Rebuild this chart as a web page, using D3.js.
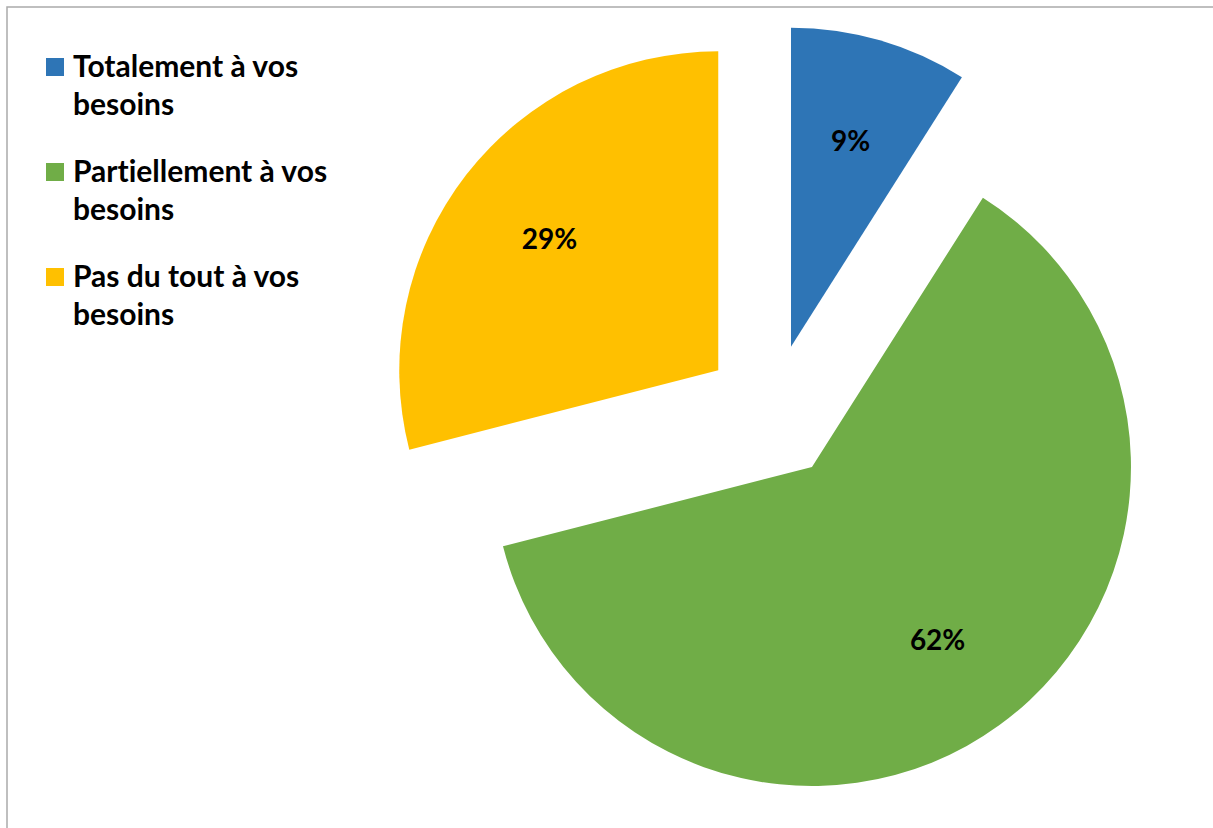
<!DOCTYPE html>
<html>
<head>
<meta charset="utf-8">
<script src="https://cdn.jsdelivr.net/npm/d3@7"></script>
<style>
  body { margin: 0; background: #fff; }
  text { font-family: Lato, "Open Sans", sans-serif; font-weight: bold; fill: #000;
         font-variant-ligatures: none; font-feature-settings: "liga" 0; }
</style>
</head>
<body>
<div id="chart"></div>
<script>
// data
var categories = ["Totalement à vos besoins", "Partiellement à vos besoins", "Pas du tout à vos besoins"];
var legendLines = [["Totalement à vos", "besoins"], ["Partiellement à vos", "besoins"], ["Pas du tout à vos", "besoins"]];
var values = [9, 62, 29];
var colours = ["#2E75B6", "#70AD47", "#FFC000"];

var width = 1213, height = 828;
var cx = 772, cy = 412;
var radius = 319;
var explode = 68;

var svg = d3.select("#chart")
  .append("svg")
  .attr("width", width)
  .attr("height", height);

// chart frame (only left and top visible)
svg.append("rect")
  .attr("x", 7)
  .attr("y", 7)
  .attr("width", width + 20)
  .attr("height", height + 20)
  .attr("fill", "none")
  .attr("stroke", "#ababab")
  .attr("stroke-width", 1.5);

var pie = d3.pie().sort(null).value(function(d) { return d; });
var data_ready = pie(values);

var arc = d3.arc().innerRadius(0).outerRadius(radius);
var labelArc = d3.arc().innerRadius(radius * 0.67).outerRadius(radius * 0.67);

var g = svg.append("g")
  .attr("transform", "translate(" + cx + "," + cy + ")");

var slices = g.selectAll("g.slice")
  .data(data_ready)
  .enter()
  .append("g")
  .attr("class", "slice")
  .attr("transform", function(d) {
    var a = (d.startAngle + d.endAngle) / 2;
    return "translate(" + (explode * Math.sin(a)) + "," + (-explode * Math.cos(a)) + ")";
  });

slices.append("path")
  .attr("d", arc)
  .attr("fill", function(d, i) { return colours[i]; });

slices.append("text")
  .attr("transform", function(d) { return "translate(" + labelArc.centroid(d) + ")"; })
  .attr("dy", "0.35em")
  .style("text-anchor", "middle")
  .style("font-size", "28px")
  .text(function(d) { return d.value + "%"; });

// legend
var legend = svg.append("g").attr("class", "legend");
var entry = legend.selectAll("g")
  .data(categories)
  .enter()
  .append("g")
  .attr("transform", function(d, i) { return "translate(46," + (58 + i * 105) + ")"; });

entry.append("rect")
  .attr("width", 18)
  .attr("height", 18)
  .attr("fill", function(d, i) { return colours[i]; });

entry.each(function(d, i) {
  var t = d3.select(this).append("text")
    .attr("x", 27)
    .attr("y", 19)
    .style("font-size", "30px");
  legendLines[i].forEach(function(line, k) {
    t.append("tspan")
      .attr("x", 27)
      .attr("dy", k === 0 ? 0 : 38)
      .text(line);
  });
});
</script>
</body>
</html>
